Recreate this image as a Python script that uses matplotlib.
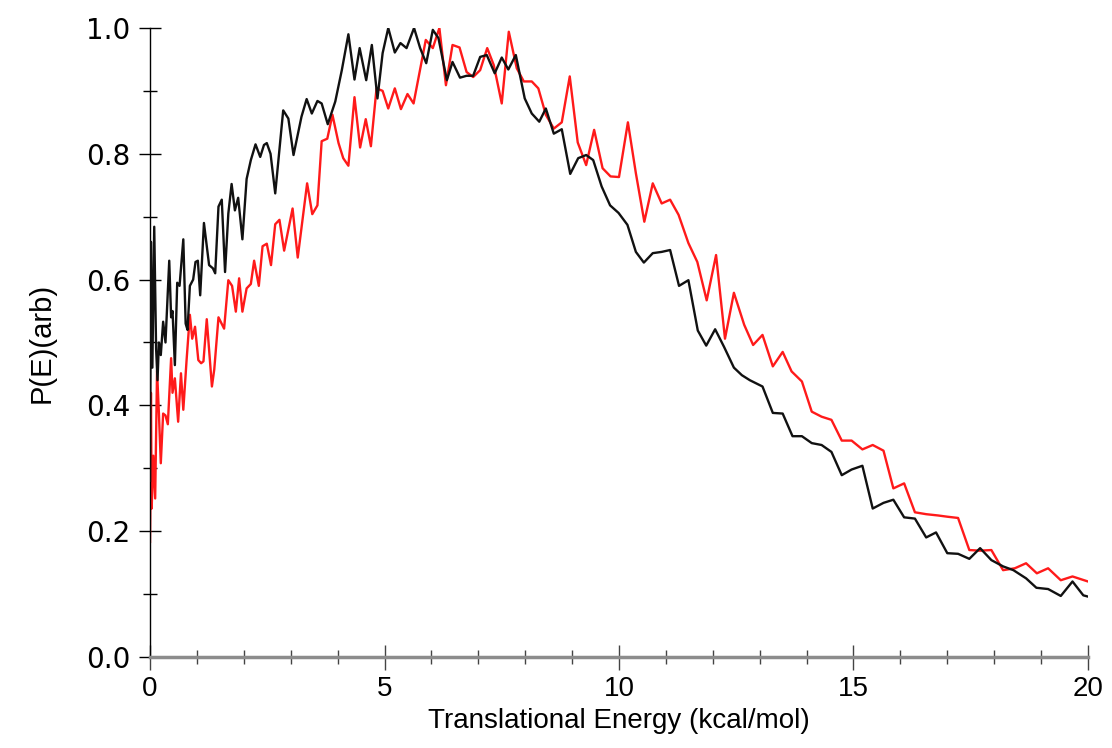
import matplotlib
matplotlib.use('Agg')
import matplotlib.pyplot as plt
from matplotlib.ticker import MultipleLocator

# black curve (energy in kcal/mol, P(E))
black_E = [0.00, 0.01, 0.02, 0.05, 0.09, 0.13, 0.16, 0.19, 0.23, 0.28, 0.33, 0.41, 0.45, 0.48,
           0.53, 0.58, 0.63, 0.71, 0.76, 0.80, 0.85, 0.92, 0.97, 1.02, 1.07, 1.15, 1.26, 1.34,
           1.39, 1.46, 1.53, 1.60, 1.67, 1.74, 1.81, 1.88, 1.97, 2.06, 2.15, 2.25, 2.35, 2.43,
           2.49, 2.57, 2.67, 2.84, 2.95, 3.06, 3.23, 3.34, 3.45, 3.57, 3.66, 3.79, 3.95, 4.09,
           4.23, 4.36, 4.47, 4.61, 4.73, 4.85, 4.96, 5.08, 5.22, 5.34, 5.47, 5.63, 5.76, 5.89,
           6.03, 6.15, 6.33, 6.45, 6.61, 6.75, 6.89, 7.04, 7.18, 7.35, 7.50, 7.64, 7.80, 7.99,
           8.14, 8.30, 8.44, 8.61, 8.78, 8.96, 9.13, 9.30, 9.45, 9.63, 9.81, 9.99, 10.18, 10.36,
           10.53, 10.72, 10.91, 11.09, 11.28, 11.48, 11.68, 11.86, 12.05, 12.24, 12.45, 12.62,
           12.79, 13.06, 13.28, 13.49, 13.70, 13.90, 14.11, 14.32, 14.53, 14.75, 14.96, 15.19,
           15.41, 15.64, 15.85, 16.08, 16.31, 16.55, 16.76, 17.00, 17.23, 17.47, 17.70, 17.94,
           18.19, 18.41, 18.68, 18.90, 19.15, 19.42, 19.67, 19.90, 20.00]
black_P = [0.28, 0.46, 0.66, 0.46, 0.684, 0.49, 0.44, 0.50, 0.48, 0.533, 0.50, 0.63, 0.54, 0.55,
           0.464, 0.595, 0.59, 0.664, 0.53, 0.52, 0.59, 0.60, 0.628, 0.63, 0.575, 0.69, 0.623, 0.618,
           0.61, 0.716, 0.727, 0.612, 0.705, 0.752, 0.71, 0.73, 0.664, 0.76, 0.79, 0.815, 0.795, 0.814,
           0.817, 0.80, 0.737, 0.869, 0.856, 0.798, 0.859, 0.887, 0.864, 0.884, 0.880, 0.847, 0.883, 0.933,
           0.990, 0.918, 0.968, 0.917, 0.973, 0.888, 0.96, 1.0, 0.961, 0.976, 0.968, 1.0, 0.968, 0.944,
           0.997, 0.984, 0.917, 0.946, 0.921, 0.924, 0.924, 0.954, 0.957, 0.928, 0.953, 0.934, 0.957, 0.888,
           0.864, 0.851, 0.872, 0.832, 0.839, 0.768, 0.793, 0.798, 0.79, 0.748, 0.718, 0.706, 0.687, 0.644,
           0.627, 0.642, 0.644, 0.647, 0.59, 0.599, 0.519, 0.495, 0.521, 0.493, 0.46, 0.448,
           0.44, 0.43, 0.388, 0.387, 0.351, 0.351, 0.34, 0.337, 0.326, 0.289, 0.298, 0.304,
           0.236, 0.245, 0.25, 0.222, 0.22, 0.19, 0.198, 0.165, 0.164, 0.156, 0.173, 0.154,
           0.144, 0.138, 0.125, 0.11, 0.108, 0.097, 0.12, 0.098, 0.096]

# red curve
red_E = [0.00, 0.01, 0.02, 0.035, 0.07, 0.11, 0.15, 0.19, 0.23, 0.28, 0.33, 0.38, 0.45, 0.48,
         0.53, 0.60, 0.66, 0.71, 0.78, 0.85, 0.90, 0.96, 1.03, 1.09, 1.14, 1.21, 1.32, 1.37,
         1.46, 1.58, 1.67, 1.75, 1.83, 1.90, 1.97, 2.06, 2.15, 2.22, 2.32, 2.40, 2.49, 2.58,
         2.67, 2.76, 2.86, 3.04, 3.15, 3.35, 3.46, 3.57, 3.66, 3.78, 3.89, 4.02, 4.12, 4.23,
         4.36, 4.48, 4.60, 4.71, 4.83, 4.96, 5.08, 5.22, 5.35, 5.49, 5.62, 5.88, 6.03, 6.17,
         6.31, 6.45, 6.60, 6.75, 6.89, 7.04, 7.19, 7.33, 7.50, 7.65, 7.82, 7.97, 8.14, 8.28,
         8.44, 8.61, 8.78, 8.95, 9.12, 9.30, 9.47, 9.65, 9.82, 10.00, 10.19, 10.36, 10.54, 10.72,
         10.91, 11.09, 11.27, 11.48, 11.67, 11.87, 12.07, 12.26, 12.45, 12.67, 12.86, 13.06, 13.28,
         13.49, 13.68, 13.90, 14.11, 14.32, 14.53, 14.75, 14.96, 15.19, 15.41, 15.64, 15.85, 16.08,
         16.31, 16.55, 16.80, 17.00, 17.23, 17.47, 17.70, 17.94, 18.19, 18.44, 18.68, 18.91, 19.15,
         19.42, 19.67, 20.00]
red_P = [0.183, 0.27, 0.42, 0.236, 0.32, 0.252, 0.455, 0.387, 0.308, 0.387, 0.384, 0.370, 0.475, 0.42,
         0.443, 0.374, 0.451, 0.393, 0.472, 0.544, 0.506, 0.525, 0.472, 0.467, 0.47, 0.537, 0.43, 0.457,
         0.54, 0.522, 0.599, 0.59, 0.549, 0.602, 0.549, 0.586, 0.593, 0.63, 0.59, 0.653, 0.657, 0.623,
         0.688, 0.695, 0.646, 0.713, 0.635, 0.753, 0.704, 0.718, 0.82, 0.824, 0.862, 0.817, 0.793, 0.781,
         0.89, 0.81, 0.855, 0.812, 0.904, 0.9, 0.872, 0.904, 0.871, 0.895, 0.880, 0.981, 0.968, 1.0,
         0.909, 0.973, 0.969, 0.93, 0.922, 0.933, 0.968, 0.941, 0.88, 0.994, 0.936, 0.915, 0.915, 0.904,
         0.862, 0.84, 0.850, 0.923, 0.818, 0.782, 0.838, 0.777, 0.764, 0.763, 0.85, 0.769, 0.692, 0.753,
         0.721, 0.727, 0.703, 0.658, 0.628, 0.567, 0.639, 0.506, 0.579, 0.528, 0.496, 0.512, 0.462,
         0.485, 0.454, 0.438, 0.39, 0.382, 0.377, 0.344, 0.344, 0.33, 0.337, 0.328, 0.268, 0.276,
         0.23, 0.227, 0.225, 0.223, 0.221, 0.17, 0.169, 0.170, 0.138, 0.141, 0.149, 0.133, 0.141,
         0.122, 0.128, 0.120]

fig = plt.figure(figsize=(11.12, 7.48), dpi=100)
ax = fig.add_axes([0.1349, 0.1217, 0.8435, 0.8409])

ax.plot(black_E, black_P, color='#111111', linewidth=1.7, zorder=3)
ax.plot(red_E, red_P, color='#ff1a1a', linewidth=1.7, zorder=2)

ax.set_xlim(0, 20)
ax.set_ylim(0, 1.0)

ax.spines['top'].set_visible(False)
ax.spines['right'].set_visible(False)
ax.spines['left'].set_color('black')
ax.spines['left'].set_linewidth(1.0)
ax.spines['bottom'].set_color('#8c8c8c')
ax.spines['bottom'].set_linewidth(2.5)

ax.xaxis.set_major_locator(MultipleLocator(5))
ax.xaxis.set_minor_locator(MultipleLocator(1))
ax.yaxis.set_major_locator(MultipleLocator(0.2))
ax.yaxis.set_minor_locator(MultipleLocator(0.1))

ax.tick_params(axis='y', which='major', direction='inout', length=16, width=1.0, colors='black', pad=6)
ax.tick_params(axis='y', which='minor', direction='inout', length=10, width=1.0, colors='black')
ax.tick_params(axis='x', which='major', direction='inout', length=18, width=1.0, color='#444444', pad=5)
ax.tick_params(axis='x', which='minor', direction='inout', length=10, width=1.0, color='#444444')

ax.set_yticks([0.0, 0.2, 0.4, 0.6, 0.8, 1.0])
ax.set_yticklabels(['0.0', '0.2', '0.4', '0.6', '0.8', '1.0'], family='DejaVu Sans', fontsize=20)
ax.set_xticks([0, 5, 10, 15, 20])
ax.set_xticklabels(['0', '5', '10', '15', '20'], family='Liberation Sans', fontsize=20)

ax.set_xlabel('Translational Energy (kcal/mol)', family='Liberation Sans', fontsize=20, labelpad=4)
ax.set_ylabel('P(E)(arb)', family='Liberation Sans', fontsize=21, labelpad=22)

fig.savefig('out.png', dpi=100)
